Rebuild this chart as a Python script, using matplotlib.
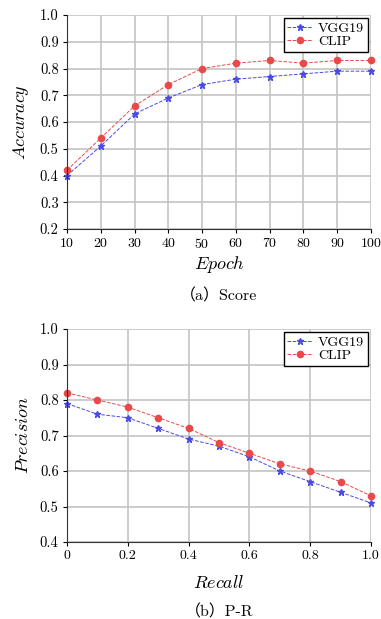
import numpy as np
import matplotlib
matplotlib.use("Agg")
import matplotlib.pyplot as plt

plt.rcParams['mathtext.fontset'] = 'cm'
plt.rcParams['font.family'] = ['cmr10', 'Noto Sans CJK SC', 'DejaVu Sans']
plt.rcParams['axes.formatter.use_mathtext'] = True

# (a) accuracy vs epoch
epochs = [10, 20, 30, 40, 50, 60, 70, 80, 90, 100]
vgg_acc = [0.40, 0.51, 0.63, 0.69, 0.74, 0.76, 0.77, 0.78, 0.79, 0.79]
clip_acc = [0.42, 0.54, 0.66, 0.74, 0.80, 0.82, 0.83, 0.82, 0.83, 0.83]

# (b) precision vs recall
recall = [0.0, 0.1, 0.2, 0.3, 0.4, 0.5, 0.6, 0.7, 0.8, 0.9, 1.0]
vgg_prec = [0.79, 0.76, 0.75, 0.72, 0.69, 0.67, 0.64, 0.60, 0.57, 0.54, 0.51]
clip_prec = [0.82, 0.80, 0.78, 0.75, 0.72, 0.68, 0.65, 0.62, 0.60, 0.57, 0.53]

blue = '#4a4ae6'
red = '#e84a4a'

W, H = 381, 619
fig = plt.figure(figsize=(W / 100, H / 100), dpi=100)


def style(ax):
    ax.grid(True, color='#c4c4c4', linewidth=1.2)
    ax.set_axisbelow(True)
    for s in ['top', 'right']:
        ax.spines[s].set_visible(False)
    for s in ['left', 'bottom']:
        ax.spines[s].set_color('#333333')
        ax.spines[s].set_linewidth(0.8)
    ax.tick_params(direction='out', length=3, width=0.8, pad=3)
    ax.tick_params(axis='y', labelsize=10.5)
    ax.tick_params(axis='x', labelsize=10)
    leg = ax.legend(loc='upper right', fontsize=10, fancybox=False, framealpha=1,
                    edgecolor='black', borderpad=0.25, labelspacing=0.05,
                    handlelength=1.8, handletextpad=0.4, borderaxespad=0.25)
    leg.get_frame().set_linewidth(1.0)


def draw(ax, x, y1, y2):
    ax.plot(x, y1, linestyle='--', color=blue, linewidth=0.7, marker='*',
            markersize=4.5, label='VGG19', clip_on=False)
    ax.plot(x, y2, linestyle='--', color=red, linewidth=0.7, marker='o',
            markersize=5.5, markeredgewidth=0, label='CLIP', clip_on=False)


ax1 = fig.add_axes([67 / W, 1 - 229 / H, 304 / W, 214 / H])
draw(ax1, epochs, vgg_acc, clip_acc)
ax1.set_xlim(10, 100)
ax1.set_ylim(0.2, 1.0)
ax1.set_xticks(epochs)
ax1.set_yticks(np.arange(0.2, 1.01, 0.1))
ax1.set_yticklabels([f'{v:.1f}' for v in np.arange(0.2, 1.01, 0.1)])
ax1.set_xlabel(r'$\mathit{Epoch}$', fontsize=13, labelpad=2)
ax1.set_ylabel(r'$\mathit{Accuracy}$', fontsize=13, labelpad=6)
style(ax1)
fig.text(67 / W + 152 / W, 1 - 296 / H, '（a）Score', ha='center', va='center', fontsize=11.5)

ax2 = fig.add_axes([67 / W, 1 - 542 / H, 304 / W, 213 / H])
draw(ax2, recall, vgg_prec, clip_prec)
ax2.set_xlim(0, 1.0)
ax2.set_ylim(0.4, 1.0)
ax2.set_xticks([0, 0.2, 0.4, 0.6, 0.8, 1.0])
ax2.set_xticklabels(['0', '0.2', '0.4', '0.6', '0.8', '1.0'])
ax2.set_yticks(np.arange(0.4, 1.01, 0.1))
ax2.set_yticklabels([f'{v:.1f}' for v in np.arange(0.4, 1.01, 0.1)])
ax2.set_xlabel(r'$\mathit{Recall}$', fontsize=13, labelpad=8)
ax2.set_ylabel(r'$\mathit{Precision}$', fontsize=13, labelpad=6)
style(ax2)
fig.text(67 / W + 152 / W, 1 - 612 / H, '（b）P-R', ha='center', va='center', fontsize=11.5)

fig.savefig('out.png', dpi=100)
